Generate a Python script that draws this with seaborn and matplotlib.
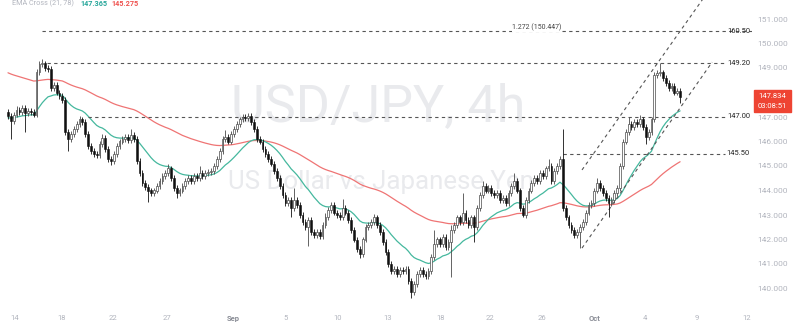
import numpy as np
import pandas as pd
import matplotlib
matplotlib.use("Agg")
import matplotlib.pyplot as plt
import seaborn as sns

# ---------------- data ----------------
closes = [
    147.05, 146.85, 147.1, 147.3, 147.2, 147.35, 147.15, 147.25, 147.2, 147.1,
    148.85, 149.15, 149.2, 149.0, 148.95, 148.2, 148.3, 148.0, 147.85, 147.7,
    146.4, 146.1, 146.3, 146.5, 146.7, 146.9, 146.8, 146.3, 145.8, 145.6,
    145.5, 145.45, 145.9, 146.15, 145.7, 145.3, 145.2, 145.5, 145.8, 146.0,
    146.1, 146.2, 146.05, 146.25, 146.1, 145.2, 144.7, 144.3, 144.15, 144.0,
    143.9, 144.0, 144.2, 144.4, 144.6, 144.7, 144.9, 144.5, 144.1, 143.9,
    144.0, 144.2, 144.4, 144.5, 144.4, 144.6, 144.5, 144.7, 144.6, 144.7,
    144.75, 144.8, 145.0, 145.3, 145.6, 146.1, 146.2, 146.0, 146.3, 146.5,
    146.7, 146.9, 147.0, 146.95, 147.05, 146.8, 146.5, 146.1, 146.0, 145.7,
    145.5, 145.3, 145.1, 144.8, 144.5, 144.2, 143.8, 143.5, 143.6, 143.3,
    143.6, 143.4, 143.0, 142.7, 142.5, 142.8, 142.3, 142.2, 142.3, 142.15,
    142.6, 142.9, 143.2, 143.4, 143.1, 143.0, 142.9, 143.3, 143.1, 142.8,
    142.4, 142.0, 141.6, 141.4, 142.0, 142.5, 142.6, 142.7, 142.9, 142.6,
    142.3, 141.9, 141.5, 141.0, 140.7, 140.8, 140.6, 140.75, 140.7, 140.8,
    140.3, 139.85, 140.2, 140.6, 140.75, 140.6, 140.5, 140.7, 141.3, 141.8,
    142.0, 141.8, 142.1, 141.7, 141.9, 142.4, 142.6, 142.9, 142.7, 143.1,
    142.8, 142.6, 142.9, 142.5, 143.3, 143.8, 144.2, 144.0, 144.1, 143.9,
    143.8, 143.9, 143.6, 143.7, 143.5, 143.9, 144.2, 144.4, 144.0, 143.3,
    143.0, 143.6, 144.0, 144.3, 144.5, 144.4, 144.7, 144.6, 144.9, 145.0,
    144.4, 144.8, 145.0, 145.3, 143.3, 142.9, 142.6, 142.4, 142.2, 142.3,
    142.5, 142.7, 143.1, 143.4, 143.5, 144.0, 144.3, 144.1, 143.9, 143.7,
    143.5, 143.6, 143.9, 144.1, 145.0, 146.0, 146.4, 146.7, 146.6, 146.8,
    146.7, 146.9, 146.6, 146.2, 146.4, 146.9, 148.7, 148.8, 148.85, 148.6,
    148.4, 148.2, 148.25, 148.0, 148.05, 147.834,
]
first_open = 147.2
wick = 0.12  # typical wick beyond the body
high_marks = {3: 147.45, 5: 147.5, 12: 149.37, 13: 149.3, 25: 147.05, 33: 146.3,
              43: 146.5, 56: 145.1, 67: 145.0, 76: 146.45, 84: 147.17, 100: 144.1,
              111: 143.1, 117: 143.65, 128: 143.05, 149: 142.4, 155: 142.6,
              159: 143.9, 166: 144.4, 177: 144.7, 189: 145.3, 194: 146.5,
              206: 144.5, 217: 147.0, 221: 147.1, 228: 149.2, 229: 148.9}
low_marks = {1: 146.1, 6: 146.4, 21: 145.6, 36: 145.05, 49: 143.55, 59: 143.7,
             99: 142.9, 105: 141.75, 123: 141.25, 141: 139.6, 155: 140.45,
             163: 141.9, 180: 142.9, 200: 141.65, 210: 142.9, 223: 145.9,
             235: 147.57}

ema_spans = [21, 78]
ema_seeds = [146.96, 148.85]          # EMA values at the first visible bar
legend_values = ["147.365", "145.275"]

levels = [150.50, 149.20, 147.00, 145.50]
level_labels = ["160.50", "149.20", "147.00", "145.50"]
level_start_bar = [11.9, 13.6, 28.0, 194.0]
fib_label = "1.272 (150.447)"
fib_price = 150.447
channel_upper = [(200.7, 144.84), (262.0, 154.96)]
channel_lower = [(200.7, 141.65), (246.2, 149.24)]

date_labels = ["14", "18", "22", "27", "Sep", "5", "10", "13", "18", "22", "26",
               "Oct", "4", "9", "12"]
date_bars = [2.4, 18.9, 36.7, 55.6, 78.7, 97.2, 115.4, 132.9, 151.4, 168.5,
             186.7, 205.2, 222.7, 240.9, 258.4]
price_ticks = [140, 141, 142, 143, 144, 145, 146, 147, 148, 149, 150, 151]
countdown = "03:08:51"

# ---------------- build candles ----------------
n = len(closes)
idx = np.arange(n)
opens = [first_open] + closes[:-1]
highs = [high_marks.get(i, max(o, c) + wick) for i, (o, c) in enumerate(zip(opens, closes))]
lows = [low_marks.get(i, min(o, c) - wick) for i, (o, c) in enumerate(zip(opens, closes))]
df = pd.DataFrame({"bar": idx, "open": opens, "high": highs, "low": lows, "close": closes})
df["up"] = df["close"] >= df["open"]

emas = []
for span, seed in zip(ema_spans, ema_seeds):
    s = pd.Series([seed] + closes)
    emas.append(s.ewm(span=span, adjust=False).mean().iloc[1:].to_numpy())
df["ema_s"] = emas[0]
df["ema_l"] = emas[1]

# ---------------- figure ----------------
sns.set_style("white")
plt.rcParams["font.family"] = ["Roboto", "DejaVu Sans"]

W, H = 800, 334
fig = plt.figure(figsize=(W / 100, H / 100), dpi=100)
ax = fig.add_axes([0, 1 - 306 / H, 752 / W, 306 / H])

px_per_unit = 24.5
ax.set_ylim(147 - 189 / px_per_unit, 147 + 117 / px_per_unit)
ax.set_xlim(-8 / 2.86, 744 / 2.86)

# watermark
gray_wm = "#e9eaed"
t1 = fig.text(231 / W, 1 - 121 / H, "USD/JPY, 4h", color=gray_wm, fontsize=40,
              ha="left", va="baseline", zorder=0)
t2 = fig.text(228 / W, 1 - 189 / H, "US Dollar vs Japanese Yen", color=gray_wm,
              fontsize=18, ha="left", va="baseline", zorder=0)
fig.canvas.draw()
r = fig.canvas.get_renderer()
for t, target in ((t1, 294), (t2, 307)):
    w = t.get_window_extent(r).width
    t.set_fontsize(t.get_fontsize() * target / w)
ax.set_zorder(1)
ax.patch.set_alpha(0)

# EMA lines
sns.lineplot(data=df, x="bar", y="ema_l", ax=ax, color="#ef7474", lw=0.9, zorder=2)
sns.lineplot(data=df, x="bar", y="ema_s", ax=ax, color="#45b89e", lw=0.9, zorder=2)

# candles
up = df[df["up"]]
dn = df[~df["up"]]
ax.vlines(up["bar"], up["low"], up["high"], color="#4a4a4a", lw=0.6, zorder=3)
ax.vlines(dn["bar"], dn["low"], dn["high"], color="#111111", lw=0.6, zorder=3)
bw = 0.62
ax.bar(up["bar"], np.maximum(up["close"] - up["open"], 0.03), bottom=up["open"],
       width=bw, color="white", edgecolor="#4a4a4a", linewidth=0.5, zorder=4)
ax.bar(dn["bar"], np.maximum(dn["open"] - dn["close"], 0.03), bottom=dn["close"],
       width=bw, color="#111111", edgecolor="#111111", linewidth=0.4, zorder=4)

# horizontal levels
dash_col = "#555555"
for lvl, lab, xs in zip(levels, level_labels, level_start_bar):
    xe = 262 if lab == "160.50" else 250.7
    ax.plot([xs, xe], [lvl, lvl], color=dash_col, lw=0.8, ls=(0, (3, 3)), zorder=2)
    ax.text(259.4, lvl, lab, ha="right", va="center", fontsize=5.4, color="#222222", zorder=5)
ax.text(185, fib_price + 0.2, fib_label, ha="center", va="center", fontsize=5.0,
        color="#444444", zorder=5,
        bbox=dict(facecolor="white", edgecolor="none", pad=0.3))

# channel
for seg in (channel_upper, channel_lower):
    (x0, y0), (x1, y1) = seg
    ax.plot([x0, x1], [y0, y1], color=dash_col, lw=0.8, ls=(0, (3, 3)), zorder=2)

# axes styling
for sp in ax.spines.values():
    sp.set_visible(False)
ax.set_xlabel("")
ax.set_ylabel("")
ax.yaxis.tick_right()
ax.set_yticks(price_ticks)
ax.set_yticklabels([f"{p:.3f}" for p in price_ticks])
ax.tick_params(axis="y", length=0, pad=3.6, labelsize=6, labelcolor="#b2b5be")
ax.set_xticks(date_bars)
ax.set_xticklabels(date_labels)
ax.tick_params(axis="x", length=0, pad=6.5, labelsize=5.5, labelcolor="#b2b5be")
for lab in ax.get_xticklabels():
    if lab.get_text() in ("Sep", "Oct"):
        lab.set_color("#8a8d96")
        lab.set_fontweight("bold")
ax.grid(False)

# legend at top-left
fig.text(12 / W, 1 - 3.5 / H, "EMA Cross (21, 78)", fontsize=5.2, color="#b2b5be",
         ha="left", va="center")
fig.text(80 / W, 1 - 3.5 / H, legend_values[0], fontsize=5.2, color="#26a69a",
         ha="left", va="center", fontweight="bold")
fig.text(111 / W, 1 - 3.5 / H, legend_values[1], fontsize=5.2, color="#ef5350",
         ha="left", va="center", fontweight="bold")

# last-price box
py = ax.transData.transform((0, closes[-1]))[1]
box_top = py + 6.5
box_bot = py - 15.5
fig.add_artist(plt.Rectangle((754 / W, box_bot / H), 37 / W, (box_top - box_bot) / H,
                             transform=fig.transFigure, color="#ee4433", zorder=10))
fig.text(772.5 / W, (py + 0.5) / H, f"{closes[-1]:.3f}", fontsize=5.5, color="white",
         ha="center", va="center", zorder=11)
fig.text(772.5 / W, (py - 9) / H, countdown, fontsize=5.5, color="white",
         ha="center", va="center", zorder=11)

fig.savefig("out.png", dpi=100, facecolor="white")
